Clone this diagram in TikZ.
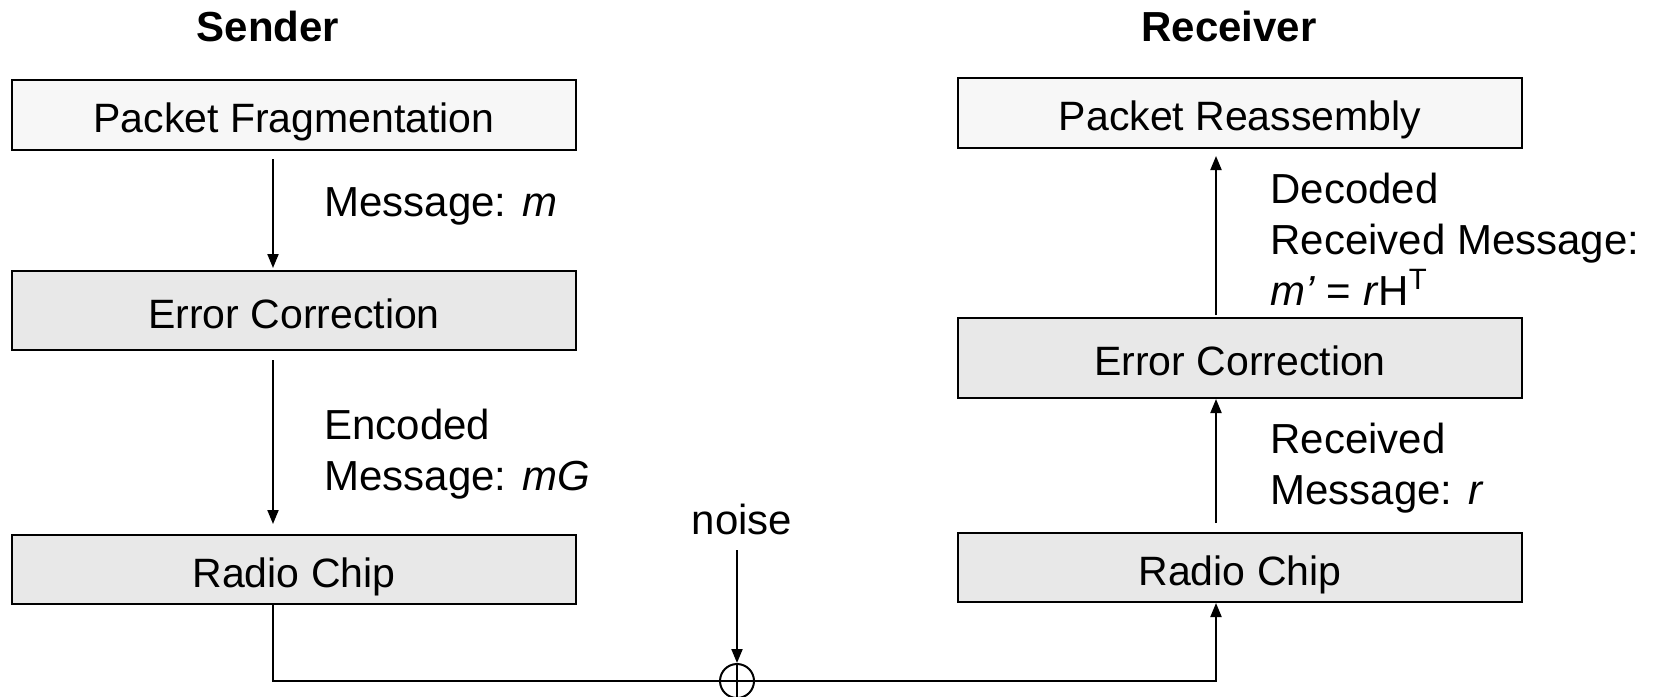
\documentclass[tikz,border=0pt]{standalone}
\usepackage{fontspec}
\setmainfont{Liberation Sans}
\usetikzlibrary{arrows.meta,calc}
\definecolor{boxlight}{HTML}{F7F7F7}
\definecolor{boxgray}{HTML}{E8E8E8}
\begin{document}
\begin{tikzpicture}[x=0.5pt,y=-0.5pt,
  blk/.style={draw=black, line width=1pt, minimum width=282pt, inner sep=0pt, text height=17.5pt, text depth=0pt, font=\fontsize{20.5}{24}\selectfont},
  lightblk/.style={blk, fill=boxlight},
  grayblk/.style={blk, fill=boxgray},
  lbl/.style={anchor=base west, align=left, inner sep=0pt, font=\fontsize{21}{25.5}\selectfont},
  ttl/.style={anchor=base, inner sep=0pt, font=\fontsize{21}{25}\selectfont\bfseries},
  conn/.style={line width=1pt},
  arr/.style={conn, -{Triangle[length=7pt,width=5.5pt]}}]
\useasboundingbox (0,0) rectangle (1658,696);
% titles
\node[ttl] (st) at (268,41) {Sender};
\node[ttl] (rt) at (1229,41) {Receiver};
% sender blocks
\node[lightblk, minimum height=35pt] (pf) at (294,115) {Packet Fragmentation};
\node[grayblk, minimum height=39.5pt] (ec1) at (294,310.5) {Error Correction};
\node[grayblk, minimum height=34.5pt] (rc1) at (294,569.5) {Radio Chip};
% receiver blocks
\node[lightblk, minimum height=35pt] (pr) at (1240,113) {Packet Reassembly};
\node[grayblk, minimum height=40pt] (ec2) at (1240,358) {Error Correction};
\node[grayblk, minimum height=34.5pt] (rc2) at (1240,567.5) {Radio Chip};
% columns of the connectors
\coordinate (sx) at (273,0);
\coordinate (rx) at (1216,0);
% sender arrows
\draw[arr] ($(pf.south -| sx)+(0,8)$) -- ($(ec1.north -| sx)+(0,-2)$);
\draw[arr] ($(ec1.south -| sx)+(0,9)$) -- ($(rc1.north -| sx)+(0,-10)$);
% receiver arrows
\draw[arr] ($(ec2.north -| rx)+(0,-2)$) -- ($(pr.south -| rx)+(0,7)$);
\draw[arr] ($(rc2.north -| rx)+(0,-9)$) -- (ec2.south -| rx);
% channel with noise
\node[draw, circle, line width=1pt, minimum size=17pt, inner sep=0pt,
  path picture={\draw[line width=1pt] (path picture bounding box.north) -- (path picture bounding box.south)
  (path picture bounding box.west) -- (path picture bounding box.east);}] (sum) at (737,681) {};
\node[anchor=base, inner sep=0pt, font=\fontsize{21}{25.5}\selectfont] (noise) at (742,534) {noise};
\draw[arr] ($(noise.base -| sum.north)+(0,16)$) -- (sum.north);
\draw[conn] (rc1.south -| sx) |- (sum.west);
\draw[arr] (sum.east) -| (rc2.south -| rx);
% labels (base = baseline of the last line)
\node[lbl] (l1) at (324,216) {Message: \textit{m}};
\node[lbl] (l2) at (324,490) {Encoded\\Message: \textit{mG}};
\node[lbl] (l3) at (1270,305) {Decoded\\Received Message:\\\textit{m’} = \textit{r}H\textsuperscript{T}};
\node[lbl] (l4) at (1270,504) {Received\\Message: \textit{r}};
\end{tikzpicture}
\end{document}
